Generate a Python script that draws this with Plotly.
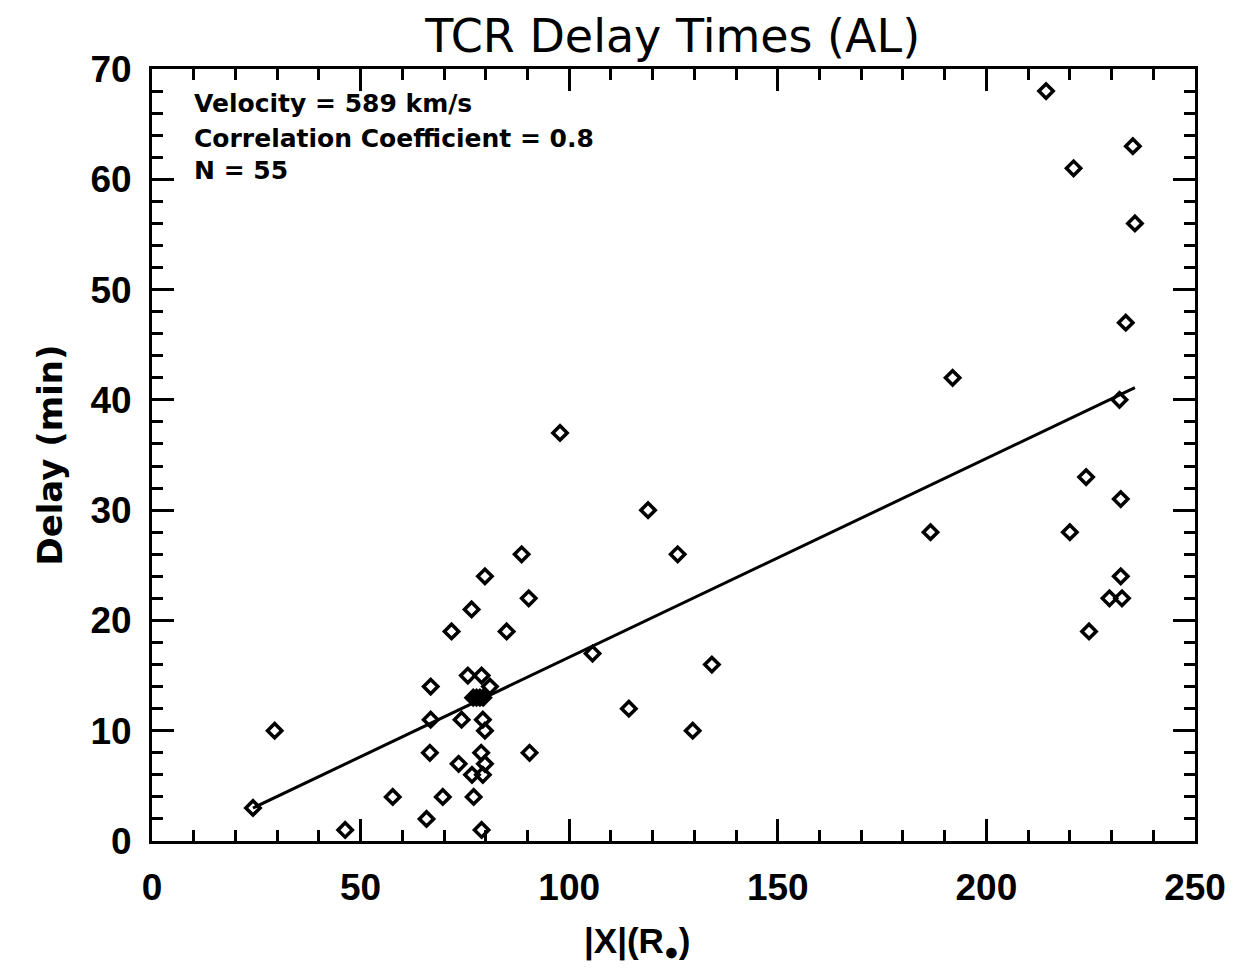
import plotly.graph_objects as go

# Data
dist_re = [24.2, 29.4, 46.3, 57.7, 65.8, 66.8, 66.8, 66.6, 69.7, 71.8,
           73.5, 74.2, 75.7, 76.6, 76.7, 77.1, 79.0, 81.0, 79.3, 79.8,
           78.9, 79.8, 79.3, 79.0, 79.8, 85.0, 88.6, 90.3, 90.5, 97.8,
           105.6, 114.3, 118.9, 126.0, 129.6, 134.2, 186.6, 191.9, 214.3, 220.9,
           220.0, 223.9, 224.6, 229.5, 232.5, 232.2, 232.2, 231.9, 233.4, 235.1,
           235.6, 77.0, 77.8, 78.6, 79.4]
delay_min = [3, 10, 1, 4, 2, 14, 11, 8, 4, 19,
             7, 11, 15, 21, 6, 4, 15, 14, 11, 10,
             8, 7, 6, 1, 24, 19, 26, 22, 8, 37,
             17, 12, 30, 26, 10, 16, 28, 42, 68, 61,
             28, 33, 19, 22, 22, 24, 31, 40, 47, 63,
             56, 13, 13, 13, 13]

velocity_kms = 589
corr_coef = 0.8
fit_intercept = -1.37
R_EARTH_KM = 6371.0
fit_slope = R_EARTH_KM / velocity_kms / 60.0  # minutes per Re

x_ticks = [0, 50, 100, 150, 200, 250]
y_ticks = [0, 10, 20, 30, 40, 50, 60, 70]

fit_x = [min(dist_re), max(dist_re)]
fit_y = [fit_slope * v + fit_intercept for v in fit_x]

fig = go.Figure()
fig.add_trace(go.Scatter(
    x=dist_re, y=delay_min, mode="markers",
    marker=dict(symbol="diamond-open", size=11, color="black",
                line=dict(color="black", width=3.5)),
    showlegend=False))
fig.add_trace(go.Scatter(
    x=fit_x, y=fit_y, mode="lines",
    line=dict(color="black", width=3), showlegend=False))

tickfont = dict(family="Liberation Sans", size=37, color="black", weight="bold")
fig.update_xaxes(
    range=[0, 250], tickvals=x_ticks, ticktext=[str(t) for t in x_ticks],
    ticks="inside", ticklen=22, tickwidth=3, tickcolor="black",
    minor=dict(dtick=10, ticks="inside", ticklen=11, tickwidth=3, tickcolor="black"),
    showline=True, linewidth=3, linecolor="black", mirror="allticks",
    showgrid=False, zeroline=False, tickfont=tickfont, ticklabelstandoff=12)
fig.update_yaxes(
    range=[0, 70], tickvals=y_ticks, ticktext=[str(t) for t in y_ticks],
    ticks="inside", ticklen=22, tickwidth=3, tickcolor="black",
    minor=dict(dtick=2, ticks="inside", ticklen=11, tickwidth=3, tickcolor="black"),
    showline=True, linewidth=3, linecolor="black", mirror="allticks",
    showgrid=False, zeroline=False, tickfont=tickfont, ticklabelstandoff=10,
    title=dict(text="<b>Delay (min)</b>", standoff=18,
               font=dict(family="DejaVu Sans", size=34, color="black")))

ann_font = dict(family="DejaVu Sans", size=25, color="black")
lines = [f"<b>Velocity = {velocity_kms} km/s</b>",
         f"<b>Correlation Coefficient = {corr_coef}</b>",
         f"<b>N = {len(dist_re)}</b>"]
ys = [0.9547, 0.9106, 0.8680]
annotations = [dict(text=t, x=0.0388, y=yy, xref="paper", yref="paper",
                    xanchor="left", yanchor="middle", showarrow=False, font=ann_font)
               for t, yy in zip(lines, ys)]
annotations.append(dict(text="<b>|X|(R<sub>●</sub>)</b>", x=0.465, y=-0.132,
                        xref="paper", yref="paper", xanchor="center", yanchor="middle",
                        showarrow=False,
                        font=dict(family="Liberation Sans", size=35, color="black")))

fig.update_layout(
    width=1249, height=968,
    margin=dict(l=152, r=54, t=69, b=127),
    paper_bgcolor="white", plot_bgcolor="white",
    title=dict(text="TCR Delay Times (AL)", x=0.5386, xanchor="center",
               y=0.963, yanchor="middle", yref="container",
               font=dict(family="DejaVu Sans", size=46, color="black")),
    annotations=annotations)

fig.write_html("out.html")
